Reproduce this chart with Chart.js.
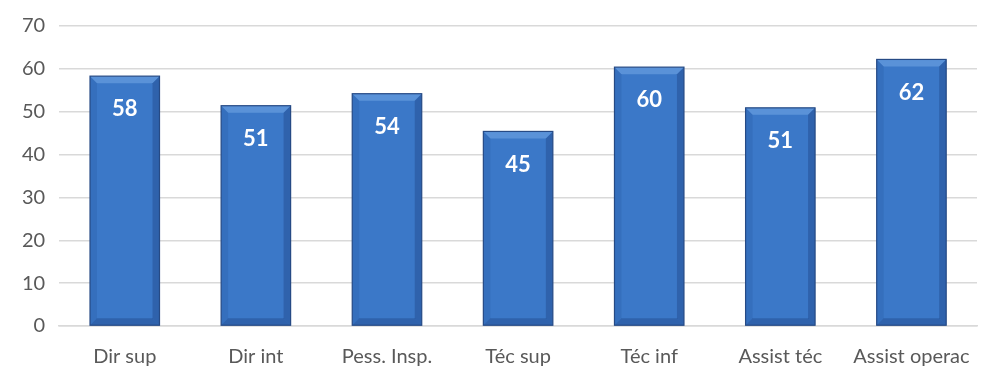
<!DOCTYPE html>
<html>
<head>
<meta charset="utf-8">
<script src="https://cdn.jsdelivr.net/npm/chart.js@4/dist/chart.umd.min.js"></script>
<style>
	html, body { margin: 0; padding: 0; background: #fff; }
	#wrap { width: 987px; height: 369px; position: relative; }
</style>
</head>
<body>
<div id="wrap"><canvas id="chart"></canvas></div>
<script>
const categories = ['Dir sup', 'Dir int', 'Pess. Insp.', 'Téc sup', 'Téc inf', 'Assist téc', 'Assist operac'];
const values = [58.3, 51.4, 54.2, 45.4, 60.4, 50.9, 62.2];
const yTicks = [0, 10, 20, 30, 40, 50, 60, 70];

// Relevo das barras (bisel suave) e rótulo de valor
const bevelPlugin = {
	id: 'bevel',
	afterDatasetsDraw(chart) {
		const ctx = chart.ctx;
		const meta = chart.getDatasetMeta(0);
		meta.data.forEach((bar, i) => {
			const left = bar.x - bar.width / 2;
			const right = bar.x + bar.width / 2;
			const top = bar.y;
			const bottom = bar.base;
			const b = 7;
			ctx.save();
			// topo
			ctx.fillStyle = 'rgba(150,195,245,0.35)';
			ctx.beginPath();
			ctx.moveTo(left, top); ctx.lineTo(right, top);
			ctx.lineTo(right - b, top + b); ctx.lineTo(left + b, top + b);
			ctx.closePath(); ctx.fill();
			// esquerda
			ctx.fillStyle = 'rgba(30,70,140,0.18)';
			ctx.beginPath();
			ctx.moveTo(left, top); ctx.lineTo(left + b, top + b);
			ctx.lineTo(left + b, bottom - b); ctx.lineTo(left, bottom);
			ctx.closePath(); ctx.fill();
			// direita
			ctx.fillStyle = 'rgba(20,50,110,0.3)';
			ctx.beginPath();
			ctx.moveTo(right, top); ctx.lineTo(right - b, top + b);
			ctx.lineTo(right - b, bottom - b); ctx.lineTo(right, bottom);
			ctx.closePath(); ctx.fill();
			// base
			ctx.fillStyle = 'rgba(20,50,110,0.3)';
			ctx.beginPath();
			ctx.moveTo(left, bottom); ctx.lineTo(left + b, bottom - b);
			ctx.lineTo(right - b, bottom - b); ctx.lineTo(right, bottom);
			ctx.closePath(); ctx.fill();
			// contorno
			ctx.strokeStyle = '#264a85';
			ctx.lineWidth = 1.2;
			ctx.strokeRect(left, top, right - left, bottom - top);
			// rótulo
			ctx.fillStyle = '#ffffff';
			ctx.font = 'bold 22px Lato, sans-serif';
			ctx.textAlign = 'center';
			ctx.textBaseline = 'middle';
			ctx.fillText(Math.round(values[i]), bar.x, top + 33);
			ctx.restore();
		});
	}
};

const canvas = document.getElementById('chart');

const config = {
	type: 'bar',
	data: {
		labels: categories,
		datasets: [{
			data: values,
			backgroundColor: (c) => {
				const el = c.element;
				if (!el || !el.width) return '#3b78c8';
				const g = c.chart.ctx.createLinearGradient(el.x - el.width / 2, 0, el.x + el.width / 2, 0);
				g.addColorStop(0, '#3568b6');
				g.addColorStop(0.5, '#3f7ed2');
				g.addColorStop(1, '#3166b2');
				return g;
			},
			borderWidth: 0,
			barPercentage: 0.53,
			categoryPercentage: 1
		}]
	},
	options: {
		responsive: false,
		animation: false,
		layout: { padding: { left: 8, right: 10, top: 1, bottom: 0 } },
		plugins: { legend: { display: false }, tooltip: { enabled: false } },
		scales: {
			y: {
				min: 0,
				max: 70,
				afterBuildTicks: (axis) => { axis.ticks = yTicks.map(v => ({ value: v })); },
				grid: { color: '#d9d9d9', lineWidth: 1.5, drawTicks: false },
				border: { display: false },
				ticks: { color: '#595959', font: { size: 20, family: 'Lato, sans-serif' }, padding: 14 }
			},
			x: {
				afterFit: (axis) => { axis.height = 43; },
				grid: { display: false },
				border: { color: '#d9d9d9', width: 1.5 },
				ticks: { color: '#595959', font: { size: 20, family: 'Lato, sans-serif' }, padding: 11, maxRotation: 0 }
			}
		}
	},
	plugins: [bevelPlugin]
};

canvas.width = 987;
canvas.height = 369;
const graph = new Chart(canvas, config);
</script>
</body>
</html>
